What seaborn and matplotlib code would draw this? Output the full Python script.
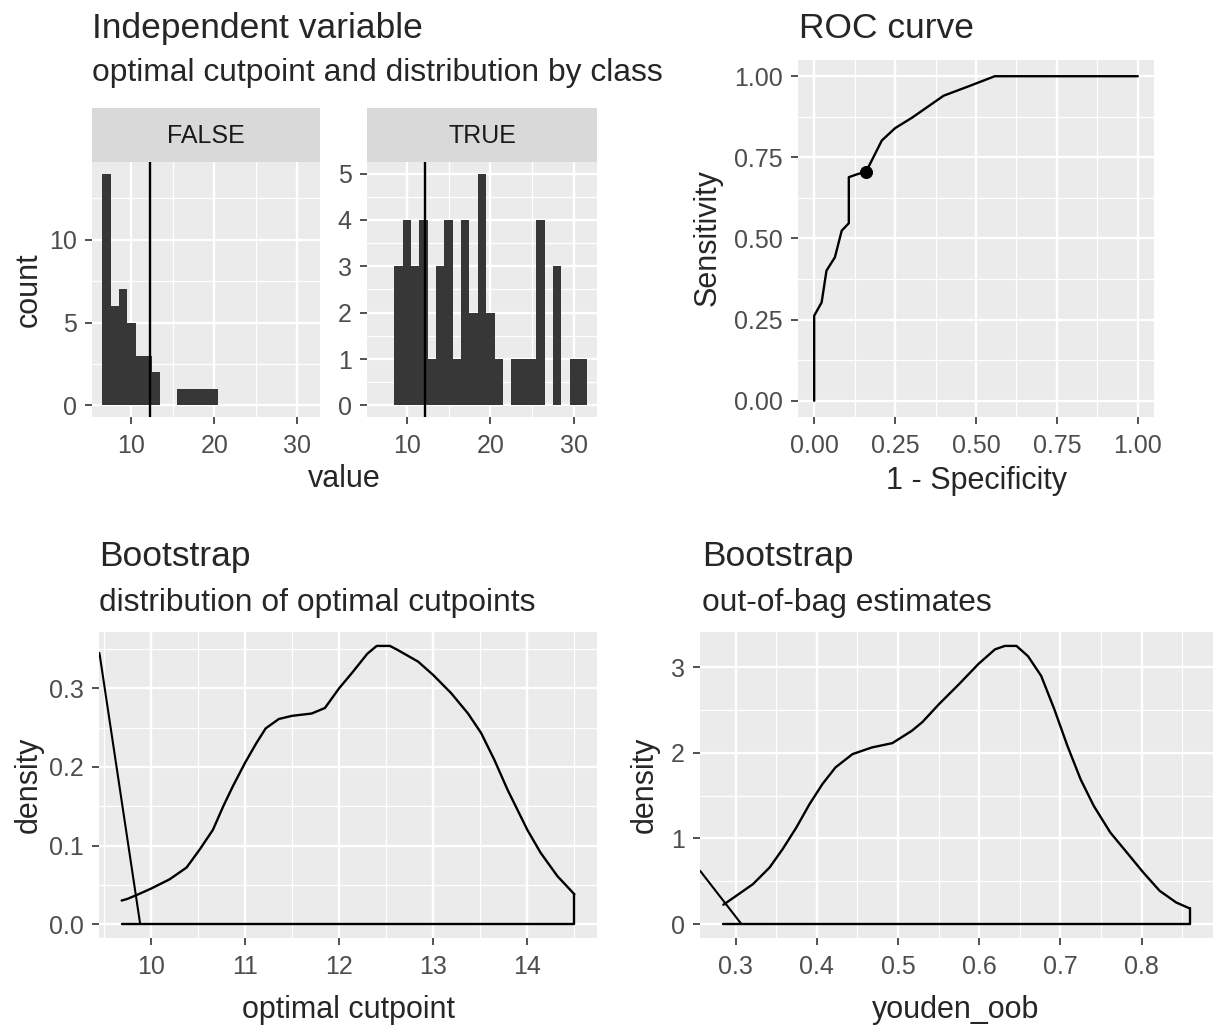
import numpy as np
import pandas as pd
import matplotlib.pyplot as plt
import seaborn as sns
from matplotlib.ticker import MultipleLocator, FormatStrFormatter

# --- data ------------------------------------------------------------------
# histogram of the independent variable (binwidth 1, bin centres)
value_bins = [7, 8, 9, 10, 11, 12, 13, 14, 15, 16, 17, 18, 19,
              20, 21, 22, 23, 24, 25, 26, 27, 28, 29, 30, 31]
count_false = [14, 6, 7, 5, 3, 3, 2, 0, 0, 1, 1, 1, 1,
               1, 0, 0, 0, 0, 0, 0, 0, 0, 0, 0, 0]
count_true = [0, 0, 3, 4, 3, 4, 1, 3, 4, 1, 4, 2, 5,
              2, 1, 0, 1, 1, 1, 4, 0, 3, 0, 1, 1]
optimal_cutpoint = 12.2

# ROC curve
roc_fpr = [0.0, 0.0, 0.023, 0.038, 0.064, 0.085, 0.107, 0.107, 0.136, 0.16,
           0.209, 0.25, 0.302, 0.40, 0.48, 0.558, 1.0]
roc_tpr = [0.0, 0.262, 0.303, 0.401, 0.442, 0.524, 0.547, 0.689, 0.699, 0.705,
           0.802, 0.84, 0.872, 0.94, 0.97, 1.0, 1.0]
opt_fpr = [0.16]
opt_tpr = [0.705]

# bootstrap: density of optimal cutpoints
cut_x = [9.69, 9.75, 9.85, 10.0, 10.2, 10.38, 10.52, 10.66, 10.77, 10.87,
         11.0, 11.12, 11.22, 11.36, 11.5, 11.71, 11.85, 12.0, 12.14, 12.22,
         12.3, 12.4, 12.54, 12.62, 12.84, 13.0, 13.19, 13.37, 13.51, 13.65,
         13.79, 13.93, 14.0, 14.14, 14.32, 14.5]
cut_dens = [0.030, 0.032, 0.037, 0.045, 0.057, 0.072, 0.095, 0.120, 0.150, 0.175,
            0.205, 0.230, 0.249, 0.261, 0.265, 0.268, 0.275, 0.300, 0.320, 0.332,
            0.344, 0.354, 0.354, 0.349, 0.334, 0.317, 0.294, 0.268, 0.243, 0.209,
            0.171, 0.137, 0.120, 0.091, 0.061, 0.038]
cut_seg_x = [9.454, 9.887]
cut_seg_y = [0.345, 0.0]

# bootstrap: out-of-bag youden
you_x = [0.285, 0.301, 0.3215, 0.342, 0.358, 0.375, 0.391, 0.407, 0.423, 0.444,
         0.468, 0.493, 0.517, 0.53, 0.5505, 0.5748, 0.5991, 0.6194, 0.6316, 0.6458,
         0.66, 0.6762, 0.6924, 0.7086, 0.7248, 0.741, 0.7613, 0.7815, 0.8018, 0.822,
         0.8423, 0.859]
you_dens = [0.226, 0.331, 0.467, 0.662, 0.876, 1.13, 1.40, 1.636, 1.83, 1.986,
            2.064, 2.114, 2.258, 2.36, 2.57, 2.80, 3.04, 3.21, 3.25, 3.25,
            3.13, 2.90, 2.51, 2.08, 1.69, 1.38, 1.07, 0.838, 0.604, 0.389,
            0.253, 0.183]
you_seg_x = [0.2564, 0.3073]
you_seg_y = [0.623, 0.0]

# --- style -------------------------------------------------------------------
sns.set_theme(style="darkgrid", rc={"axes.facecolor": "#EBEBEB", "grid.color": "white"})
plt.rcParams['font.family'] = ['Liberation Sans', 'DejaVu Sans']

W, H = 1215, 1027
fig = plt.figure(figsize=(W / 100, H / 100), dpi=100)
fig.patch.set_facecolor('white')

TICK = 18
AXT = 22
TITLE = 25.5
SUB = 22.9
BAR = '#373737'
LW = 1.7


def panel(l, t, r, b):
    return fig.add_axes([l / W, 1 - b / H, (r - l) / W, (b - t) / H])


def expand(lo, hi):
    pad = 0.05 * (hi - lo)
    return lo - pad, hi + pad


def style(ax, xmaj, xmin, ymaj, ymin):
    ax.xaxis.set_major_locator(MultipleLocator(xmaj))
    ax.xaxis.set_minor_locator(MultipleLocator(xmin))
    ax.yaxis.set_major_locator(MultipleLocator(ymaj))
    ax.yaxis.set_minor_locator(MultipleLocator(ymin))
    ax.grid(which='major', color='white', linewidth=1.7)
    ax.grid(which='minor', color='white', linewidth=0.9)
    ax.set_axisbelow(True)
    for s in ax.spines.values():
        s.set_visible(False)
    ax.tick_params(which='major', length=5, width=1.2, color='#333333',
                   labelsize=TICK, labelcolor='#4D4D4D', bottom=True, left=True)
    ax.tick_params(axis='x', which='major', pad=7)
    ax.tick_params(axis='y', which='major', pad=6)
    ax.tick_params(which='minor', length=0)
    ax.set_xlabel('')
    ax.set_ylabel('')


def strip(l, t, r, b, label):
    s = panel(l, t, r, b)
    s.set_facecolor('#D9D9D9')
    s.set_xticks([])
    s.set_yticks([])
    s.grid(False)
    for sp in s.spines.values():
        sp.set_visible(False)
    s.text(0.5, 0.48, label, ha='center', va='center', fontsize=TICK, color='#1A1A1A',
           transform=s.transAxes)


# --- independent variable histograms ------------------------------------------
hist_df = pd.DataFrame({'value': value_bins, 'false': count_false, 'true': count_true})
edges = [v - 0.5 for v in value_bins] + [value_bins[-1] + 0.5]
xlim_hist = expand(edges[0], edges[-1])

ax_f = panel(92, 162, 320, 417)
sns.histplot(data=hist_df, x='value', weights='false', bins=edges, ax=ax_f,
             color=BAR, alpha=1, linewidth=0)
ax_f.axvline(optimal_cutpoint, color='black', linewidth=LW)
ax_f.set_xlim(*xlim_hist)
ax_f.set_ylim(*expand(0, max(count_false)))
style(ax_f, 10, 5, 5, 2.5)
strip(92, 108, 320, 162, 'FALSE')

ax_t = panel(367, 162, 597, 417)
sns.histplot(data=hist_df, x='value', weights='true', bins=edges, ax=ax_t,
             color=BAR, alpha=1, linewidth=0)
ax_t.axvline(optimal_cutpoint, color='black', linewidth=LW)
ax_t.set_xlim(*xlim_hist)
ax_t.set_ylim(*expand(0, max(count_true)))
style(ax_t, 10, 5, 1, 0.5)
strip(367, 108, 597, 162, 'TRUE')

# --- ROC curve -------------------------------------------------------------------
ax_r = panel(798, 60, 1154, 417)
sns.lineplot(x=roc_fpr, y=roc_tpr, ax=ax_r, sort=False, estimator=None,
             color='black', linewidth=LW)
sns.scatterplot(x=opt_fpr, y=opt_tpr, ax=ax_r, color='black', s=75, edgecolor='black')
ax_r.set_xlim(*expand(0, 1))
ax_r.set_ylim(*expand(0, 1))
style(ax_r, 0.25, 0.125, 0.25, 0.125)
ax_r.xaxis.set_major_formatter(FormatStrFormatter('%.2f'))
ax_r.yaxis.set_major_formatter(FormatStrFormatter('%.2f'))

# --- bootstrap cutpoints -------------------------------------------------------------
ax_c = panel(99, 632, 597, 938)
sns.lineplot(x=cut_x, y=cut_dens, ax=ax_c, sort=False, estimator=None,
             color='black', linewidth=LW)
ax_c.plot([cut_x[0], cut_x[-1], cut_x[-1]], [0, 0, cut_dens[-1]], color='black', linewidth=LW)
ax_c.plot(cut_seg_x, cut_seg_y, color='black', linewidth=1.5)
ax_c.set_xlim(*expand(min(cut_x), max(cut_x)))
ax_c.set_ylim(*expand(0, max(cut_dens)))
style(ax_c, 1, 0.5, 0.1, 0.05)
ax_c.yaxis.set_major_formatter(FormatStrFormatter('%.1f'))

# --- bootstrap youden oob ------------------------------------------------------------
ax_y = panel(700, 632, 1213, 938)
sns.lineplot(x=you_x, y=you_dens, ax=ax_y, sort=False, estimator=None,
             color='black', linewidth=LW)
ax_y.plot([you_x[0], you_x[-1], you_x[-1]], [0, 0, you_dens[-1]], color='black', linewidth=LW)
ax_y.plot(you_seg_x, you_seg_y, color='black', linewidth=1.5)
ax_y.set_xlim(*expand(min(you_x), max(you_x)))
ax_y.set_ylim(*expand(0, max(you_dens)))
style(ax_y, 0.1, 0.05, 1, 0.5)
ax_y.xaxis.set_major_formatter(FormatStrFormatter('%.1f'))

# --- titles and axis titles -------------------------------------------------------------


def ftext(x, y, s, **kw):
    fig.text(x / W, 1 - y / H, s, **kw)


ftext(92, 38, 'Independent variable', fontsize=TITLE, va='baseline')
ftext(92, 81, 'optimal cutpoint and distribution by class', fontsize=SUB, va='baseline')
ftext(799, 38, 'ROC curve', fontsize=TITLE, va='baseline')
ftext(99, 566, 'Bootstrap', fontsize=TITLE, va='baseline')
ftext(99, 611, 'distribution of optimal cutpoints', fontsize=SUB, va='baseline')
ftext(702, 566, 'Bootstrap', fontsize=TITLE, va='baseline')
ftext(702, 611, 'out-of-bag estimates', fontsize=SUB, va='baseline')

ftext(344, 464, 'value', fontsize=AXT, ha='center', va='top')
ftext(976, 466, '1 - Specificity', fontsize=AXT, ha='center', va='top')
ftext(348, 995, 'optimal cutpoint', fontsize=AXT, ha='center', va='top')
ftext(956, 995, 'youden_oob', fontsize=AXT, ha='center', va='top')

ftext(29, 290, 'count', fontsize=AXT, ha='center', va='center', rotation=90)
ftext(708, 238, 'Sensitivity', fontsize=AXT, ha='center', va='center', rotation=90)
ftext(29, 785, 'density', fontsize=AXT, ha='center', va='center', rotation=90)
ftext(645, 785, 'density', fontsize=AXT, ha='center', va='center', rotation=90)

plt.savefig('out.png', dpi=100)
plt.close()
